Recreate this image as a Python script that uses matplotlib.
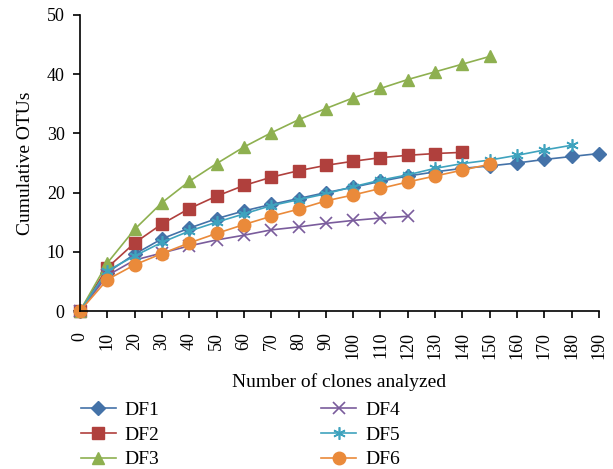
import numpy as np
import matplotlib.pyplot as plt

plt.rcParams['font.family'] = ['Liberation Serif', 'DejaVu Serif']

# clone counts (x categories)
clones = list(range(0, 200, 10))

# cumulative OTUs
df1 = [0, 6.5, 9.6, 12.2, 14.0, 15.6, 16.9, 18.0, 19.0, 20.0, 20.9, 21.9, 22.8, 23.5, 24.1, 24.5, 25.0, 25.6, 26.1, 26.6]
df2 = [0, 7.3, 11.5, 14.7, 17.3, 19.4, 21.2, 22.6, 23.7, 24.6, 25.3, 25.9, 26.3, 26.6, 26.8]
df3 = [0, 8.1, 13.8, 18.3, 21.9, 24.9, 27.7, 30.1, 32.3, 34.2, 36.0, 37.6, 39.1, 40.4, 41.7, 43.0]
df4 = [0, 6.0, 8.6, 9.8, 11.0, 12.0, 12.8, 13.7, 14.2, 14.8, 15.3, 15.7, 16.0]
df5 = [0, 6.8, 9.3, 11.6, 13.5, 15.0, 16.4, 17.8, 18.8, 19.8, 21.0, 22.1, 23.0, 24.1, 24.9, 25.5, 26.3, 27.2, 28.0]
df6 = [0, 5.3, 7.8, 9.7, 11.5, 13.1, 14.6, 16.0, 17.2, 18.6, 19.6, 20.7, 21.8, 22.8, 23.8, 24.8]

series = [
    ('DF1', df1, '#4472A8', 'D', 7),
    ('DF2', df2, '#B0403D', 's', 8),
    ('DF3', df3, '#8EB050', '^', 8.5),
    ('DF4', df4, '#7A5C9C', 'x', 8),
    ('DF5', df5, '#3FA3BE', (6, 2, 0), 9),
    ('DF6', df6, '#EA8A3A', 'o', 9),
]

fig = plt.figure(figsize=(6.13, 4.69), dpi=100)
ax = fig.add_axes([80 / 613, 1 - 311 / 469, 519 / 613, 296 / 469])

for name, vals, color, marker, ms in series:
    x = clones[:len(vals)]
    if marker in ('x', (6, 2, 0)):
        ax.plot(x, vals, color=color, marker=marker, markersize=ms, linewidth=1.2,
                markeredgewidth=1.2, label=name, clip_on=False)
    else:
        ax.plot(x, vals, color=color, marker=marker, markersize=ms, linewidth=1.2,
                markeredgecolor=color, label=name, clip_on=False)

ax.set_xlim(0, 190)
ax.set_ylim(0, 50)
ax.set_xticks(clones)
ax.set_xticklabels([str(c) for c in clones], rotation=90, fontsize=13)
ax.set_yticks(range(0, 51, 10))
ax.tick_params(axis='y', labelsize=13, direction='out', length=5, width=1.2, pad=6)
ax.tick_params(axis='x', direction='out', length=5, width=1.2, pad=10)
ax.spines['top'].set_visible(False)
ax.spines['right'].set_visible(False)
ax.spines['left'].set_linewidth(1.2)
ax.spines['bottom'].set_linewidth(1.2)

ax.set_ylabel('Cumulative OTUs', fontsize=14, labelpad=9)
ax.set_xlabel('Number of clones analyzed', fontsize=14, labelpad=10)

handles, labels = ax.get_legend_handles_labels()
fig.legend(handles, labels, ncol=2, loc='upper left', bbox_to_anchor=(63 / 613, 1 - 384 / 469),
           frameon=False, fontsize=14, handlelength=1.8, columnspacing=8.35,
           labelspacing=0.36, handletextpad=0.45)

plt.savefig('out.png', dpi=100)
